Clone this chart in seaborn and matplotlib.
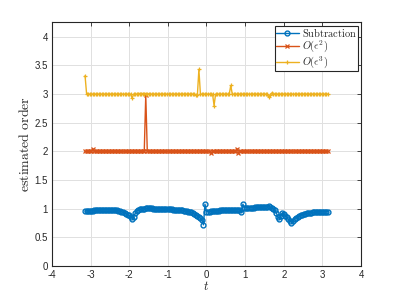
import numpy as np
import matplotlib
matplotlib.use("Agg")
import matplotlib.pyplot as plt
import seaborn as sns

# t grid: 161 samples over [-pi, pi]
t = np.linspace(-np.pi, np.pi, 161)

subtraction = [
    0.96, 0.96, 0.96, 0.962, 0.965, 0.967, 0.97, 0.972, 0.975, 0.977,
    0.98, 0.982, 0.985, 0.985, 0.985, 0.985, 0.985, 0.984, 0.982, 0.98,
    0.975, 0.97, 0.965, 0.958, 0.95, 0.94, 0.93, 0.915, 0.90, 0.885,
    0.86, 0.83, 0.86, 0.92, 0.96, 0.98, 0.99, 0.995, 1.0, 1.0,
    1.005, 1.005, 1.005, 1.005, 1.005, 1.0, 1.0, 1.0, 1.0, 1.0,
    1.0, 0.998, 0.995, 0.993, 0.99, 0.99, 0.99, 0.988, 0.985, 0.983,
    0.98, 0.978, 0.975, 0.972, 0.97, 0.965, 0.96, 0.955, 0.95, 0.943,
    0.935, 0.925, 0.91, 0.895, 0.88, 0.86, 0.84, 0.80, 0.72, 1.08,
    0.95, 0.95, 0.952, 0.955, 0.957, 0.96, 0.962, 0.965, 0.967, 0.97,
    0.97, 0.972, 0.975, 0.975, 0.975, 0.977, 0.98, 0.98, 0.98, 0.982,
    0.985, 0.985, 0.98, 0.94, 1.08, 1.02, 1.02, 1.02, 1.02, 1.02,
    1.022, 1.022, 1.025, 1.025, 1.025, 1.027, 1.03, 1.03, 1.032, 1.035,
    1.038, 1.04, 1.03, 1.015, 1.0, 0.97, 0.93, 0.86, 0.82, 0.88,
    0.93, 0.91, 0.88, 0.85, 0.82, 0.79, 0.76, 0.79, 0.82, 0.845,
    0.86, 0.875, 0.89, 0.90, 0.91, 0.915, 0.92, 0.925, 0.93, 0.933,
    0.935, 0.938, 0.94, 0.942, 0.945, 0.946, 0.948, 0.95, 0.95, 0.95,
    0.95,
]

order_e2 = [
    2.0, 2.0, 2.0, 2.0, 2.0, 2.05, 2.0, 2.0, 2.0, 2.0,
    2.0, 2.0, 2.0, 2.0, 2.0, 2.0, 2.0, 2.0, 2.0, 2.0,
    2.0, 2.0, 2.0, 2.0, 2.0, 2.0, 2.0, 2.0, 2.0, 2.0,
    2.0, 2.0, 2.0, 2.0, 2.0, 2.0, 2.0, 2.0, 2.0, 2.0,
    2.98, 2.0, 2.0, 2.0, 2.0, 2.0, 2.0, 2.0, 2.0, 2.0,
    2.0, 2.0, 2.0, 2.0, 2.0, 2.0, 2.0, 2.0, 2.0, 2.0,
    2.0, 2.0, 2.0, 2.0, 2.0, 2.0, 2.0, 2.0, 2.0, 2.0,
    2.0, 2.0, 2.0, 2.0, 2.0, 2.0, 2.0, 2.0, 2.0, 2.0,
    2.0, 2.0, 2.0, 1.97, 2.0, 2.0, 2.0, 2.0, 2.0, 2.0,
    2.0, 2.0, 2.0, 2.0, 2.0, 2.0, 2.0, 2.0, 2.0, 2.0,
    2.05, 1.98, 2.0, 2.0, 2.0, 2.0, 2.0, 2.0, 2.0, 2.0,
    2.0, 2.0, 2.0, 2.0, 2.0, 2.0, 2.0, 2.0, 2.0, 2.0,
    2.0, 2.0, 2.0, 2.0, 2.0, 2.0, 2.0, 2.01, 2.0, 2.0,
    2.0, 2.0, 2.0, 2.0, 2.0, 2.0, 2.0, 2.0, 2.0, 2.0,
    2.0, 2.0, 2.0, 2.0, 2.0, 2.0, 2.0, 2.0, 2.0, 2.0,
    2.0, 2.0, 2.0, 2.0, 2.0, 2.0, 2.0, 2.0, 2.0, 2.0,
    2.0,
]

order_e3 = [
    3.32, 3.01, 3.0, 3.0, 3.0, 3.0, 3.0, 3.0, 3.0, 3.0,
    3.0, 3.0, 3.0, 3.0, 3.0, 3.0, 3.0, 3.0, 3.0, 3.0,
    3.0, 3.0, 3.0, 3.0, 3.0, 3.0, 3.0, 3.0, 3.0, 3.0,
    3.0, 2.93, 3.0, 3.0, 3.0, 3.01, 3.01, 3.01, 3.01, 3.01,
    3.01, 3.0, 3.0, 3.0, 3.0, 3.0, 3.0, 3.0, 3.0, 3.0,
    3.0, 3.0, 3.0, 3.0, 3.0, 3.0, 3.0, 3.0, 3.0, 3.0,
    3.0, 3.0, 3.0, 3.0, 3.0, 3.0, 3.0, 3.0, 3.0, 3.0,
    3.0, 3.0, 3.0, 2.99, 2.98, 3.43, 3.0, 3.0, 3.0, 3.0,
    3.0, 3.0, 3.0, 3.0, 3.0, 2.80, 3.0, 3.0, 3.0, 3.0,
    3.0, 3.0, 3.0, 3.0, 3.0, 3.0, 3.15, 3.0, 3.0, 3.0,
    3.0, 3.0, 3.0, 3.0, 3.0, 3.0, 3.0, 3.0, 3.0, 3.0,
    3.0, 3.0, 3.0, 3.0, 3.0, 3.0, 3.0, 3.0, 3.0, 3.0,
    3.0, 2.95, 2.98, 3.02, 3.0, 3.0, 3.0, 3.0, 3.0, 3.0,
    3.0, 3.0, 3.0, 3.0, 3.0, 3.0, 3.0, 3.0, 3.0, 3.0,
    3.0, 3.0, 3.0, 3.0, 3.0, 3.0, 3.0, 3.0, 3.0, 3.0,
    3.0, 3.0, 3.0, 3.0, 3.0, 3.0, 3.0, 3.0, 3.0, 3.0,
    3.0,
]

x_ticks = [-4, -3, -2, -1, 0, 1, 2, 3, 4]
y_ticks = [0, 0.5, 1, 1.5, 2, 2.5, 3, 3.5, 4]

BLUE = "#0072BD"
ORANGE = "#D95319"
YELLOW = "#EDB120"
AXC = "#262626"

sns.set_style("whitegrid")
plt.rcParams["font.family"] = ["Liberation Sans", "DejaVu Sans"]
plt.rcParams["mathtext.fontset"] = "cm"
plt.rcParams["axes.unicode_minus"] = False

fig = plt.figure(figsize=(3.99, 2.99), dpi=100)
ax = fig.add_axes([0.13, 0.11, 0.775, 0.815])

sns.lineplot(x=t, y=subtraction, ax=ax, color=BLUE, linewidth=1.0,
             marker="o", markersize=3.5, markerfacecolor="none",
             markeredgecolor=BLUE, markeredgewidth=1.0,
             label=r"$\mathrm{Subtraction}$")
sns.lineplot(x=t, y=order_e2, ax=ax, color=ORANGE, linewidth=1.0,
             marker="x", markersize=3, markeredgecolor=ORANGE,
             markeredgewidth=0.9, label=r"$O(\epsilon^2)$")
sns.lineplot(x=t, y=order_e3, ax=ax, color=YELLOW, linewidth=1.0,
             marker="+", markersize=3.5, markeredgecolor=YELLOW,
             markeredgewidth=0.9, label=r"$O(\epsilon^3)$")

ax.set_xlim(-4, 4)
ax.set_ylim(0, 4.25)
ax.set_xticks(x_ticks)
ax.set_xticklabels([str(v) for v in x_ticks])
ax.set_yticks(y_ticks)
ax.set_yticklabels([f"{v:g}" for v in y_ticks])

ax.grid(True, color="#e0e0e0", linewidth=0.7)
for s in ax.spines.values():
    s.set_color(AXC)
    s.set_linewidth(0.8)
    s.set_visible(True)
ax.tick_params(direction="in", length=3, width=0.6, colors=AXC,
               labelsize=7, top=True, right=True, pad=3)

ax.set_xlabel(r"$t$", fontsize=9, color=AXC, labelpad=0)
ax.set_ylabel(r"$\mathrm{estimated\ order}$", fontsize=10, color=AXC, labelpad=2)

leg = ax.legend(loc="upper right", fontsize=7.5, frameon=True, fancybox=False,
                borderpad=0.1, labelspacing=0.0, handlelength=2.2,
                handletextpad=0.3, borderaxespad=0.3)
leg.get_frame().set_edgecolor(AXC)
leg.get_frame().set_linewidth(0.8)
leg.get_frame().set_alpha(1)

fig.savefig("out.png", dpi=100)
